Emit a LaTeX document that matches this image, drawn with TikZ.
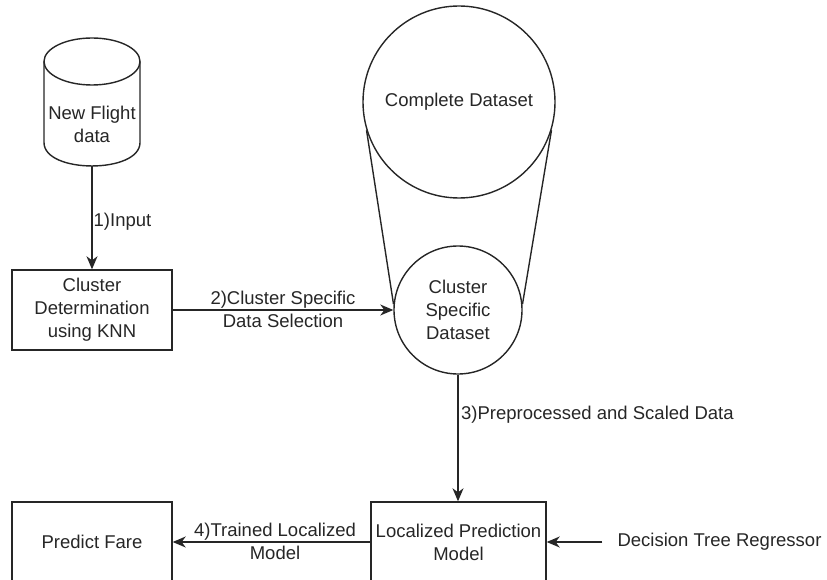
\documentclass[tikz,border=0pt]{standalone}
\usepackage{fontspec}
\setmainfont{Liberation Sans}
\usetikzlibrary{arrows.meta,calc}

\tikzset{
  outline/.style={draw=black!85, line width=1.4pt},
  procbox/.style={outline, rectangle, minimum height=80pt, inner sep=0pt,
    align=center},
  datacircle/.style={outline, circle, inner sep=0pt, align=center},
  plain/.style={align=center, inner sep=1pt},
  flow/.style={outline, -{Stealth[length=13pt, width=11pt, inset=4pt]}},
}

\begin{document}
\begin{tikzpicture}[x=1pt, y=-1pt,
  every node/.append style={font=\fontsize{18.5}{23}\selectfont, text=black!85}]
  \useasboundingbox (0,0) rectangle (827,580);
  \clip (0,0) rectangle (827,580);

  % database cylinder holding the incoming flight record
  \draw[outline, fill=white] (44,61.5) -- (44,142.5)
    .. controls (44,173.8) and (140,173.8) .. (140,142.5) -- (140,61.5);
  \draw[outline] (92,61.5) ellipse [x radius=48, y radius=23.5];
  \node[plain, minimum height=84pt] (flight) at (92,124) {New Flight\\data};

  % processing steps
  \node[procbox, minimum width=160pt] (clusterdet) at (92,310)
    {Cluster\\Determination\\using KNN};
  \node[procbox, minimum width=175pt] (localized) at (458.5,542)
    {Localized Prediction\\Model};
  \node[procbox, minimum width=160pt] (predict) at (92,542) {Predict Fare};

  % full dataset funnelling into the cluster subset
  \node[datacircle, minimum size=192pt] (complete) at (459,102) {Complete Dataset};
  \node[datacircle, minimum size=128pt] (clustsel) at (458,310)
    {Cluster\\Specific\\Dataset};
  \draw[outline] (complete.197) -- (clustsel.175);
  \draw[outline] (complete.-17) -- (clustsel.5);

  % model input
  \node[plain, inner xsep=15pt] (regressor) at (719.5,542) {Decision Tree Regressor};

  % connectors
  \draw[flow] (flight.south) -- (clusterdet.north)
    node[pos=0.54, anchor=west, plain] {1)Input};
  \draw[flow] (clusterdet.east) -- (clustsel.west);
  \node[plain] (lbltwo) at (283,309) {2)Cluster Specific\\Data Selection};
  \draw[flow] (clustsel.south) -- (clustsel.south |- localized.north);
  \node[plain, anchor=west] (lblthree) at (460,415) {3)Preprocessed and Scaled Data};
  \draw[flow] (localized.west) -- (predict.east);
  \node[plain] (lblfour) at (275,541) {4)Trained Localized\\Model};
  \draw[flow] (regressor.west) -- (localized.east);
\end{tikzpicture}
\end{document}
